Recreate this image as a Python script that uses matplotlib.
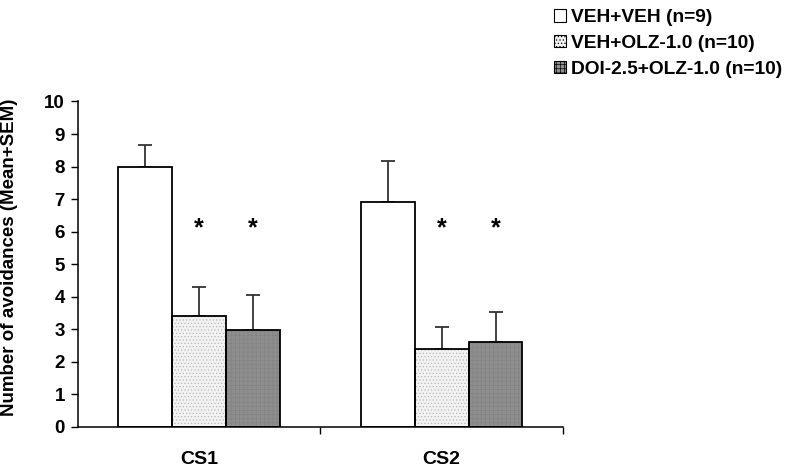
import numpy as np
import matplotlib.pyplot as plt
from matplotlib.patches import Patch

plt.rcParams['font.family'] = ['Liberation Sans', 'DejaVu Sans']
plt.rcParams['font.weight'] = 'bold'
plt.rcParams['hatch.linewidth'] = 0.5

# Data
categories = ["CS1", "CS2"]
groups = ["VEH+VEH (n=9)", "VEH+OLZ-1.0 (n=10)", "DOI-2.5+OLZ-1.0 (n=10)"]
means = [[8.0, 6.92],
         [3.42, 2.39],
         [2.98, 2.61]]
sems = [[0.66, 1.26],
        [0.89, 0.68],
        [1.07, 0.93]]
signif = [[False, False],
          [True, True],
          [True, True]]
star_level = 6.1

faces = ["white", "#f2f2f2", "#8e8e8e"]
hatches = [None, ".....", "++++"]
hatch_cols = ["black", "#b8b8b8", "#838383"]

fig = plt.figure(figsize=(8, 4.67), dpi=100)
ax = fig.add_axes([0.0969, 0.0857, 0.6069, 0.697])

centers = np.arange(len(categories)) + 0.5
width = 0.222

for i in range(len(groups)):
    x = centers + (i - 1) * width
    ax.bar(x, means[i], width, color=faces[i], edgecolor=hatch_cols[i],
           hatch=hatches[i], linewidth=0, zorder=2)
    # black outline on top of hatch
    ax.bar(x, means[i], width, color="none", edgecolor="black", linewidth=1.3, zorder=3)
    ax.errorbar(x, means[i], yerr=[np.zeros(len(categories)), sems[i]], fmt="none",
                ecolor="#333333", elinewidth=1.3, capsize=5, capthick=1.3, zorder=1)
    for j in range(len(categories)):
        if signif[i][j]:
            ax.text(x[j], star_level, "*", ha="center", va="center", fontsize=18,
                    fontweight="bold")

ax.set_xlim(0, 2)
ax.set_ylim(0, 10)
ax.set_yticks(range(0, 11))
ax.tick_params(axis="y", labelsize=13.5, length=5, width=1, direction="out", pad=4)
ax.set_xticks([1, 2])
ax.set_xticklabels(["", ""])
ax.tick_params(axis="x", which="major", length=5, width=1, direction="out")
ax.set_xticks(centers, minor=True)
ax.set_xticklabels(categories, minor=True)
ax.tick_params(axis="x", which="minor", length=0, labelsize=14, pad=17)
for lab in ax.get_yticklabels() + ax.get_xticklabels(minor=True):
    lab.set_fontweight("bold")

for s in ["top", "right"]:
    ax.spines[s].set_visible(False)
for s in ["left", "bottom"]:
    ax.spines[s].set_linewidth(1.1)

ax.set_ylabel("Number of avoidances (Mean+SEM)", fontsize=13.5, fontweight="bold")
ax.yaxis.set_label_coords(-0.122, 0.52)

handles = [Patch(facecolor=faces[i], edgecolor="black", hatch=hatches[i], linewidth=0.8)
           for i in range(len(groups))]
leg = fig.legend(handles, groups, loc="upper left", bbox_to_anchor=(0.671, 1.017),
                 frameon=False, fontsize=13.8, handlelength=0.6, handleheight=0.6,
                 handletextpad=0.3, labelspacing=0.45)
for t in leg.get_texts():
    t.set_fontweight("bold")

fig.savefig("out.png", dpi=100)
